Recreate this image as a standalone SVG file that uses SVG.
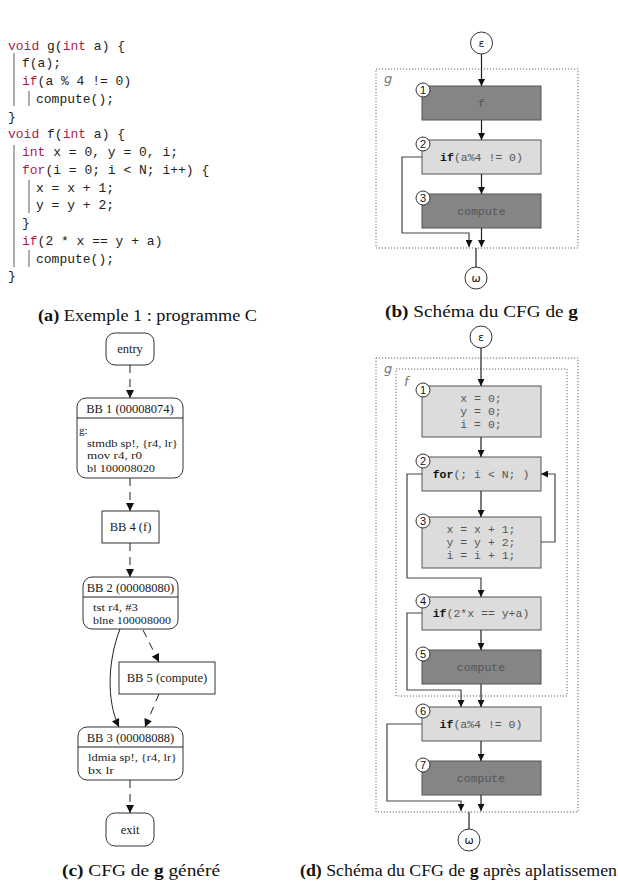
<svg xmlns="http://www.w3.org/2000/svg" width="618" height="888" viewBox="0 0 618 888">
<defs>
<style>
.code{font-family:"Liberation Mono","DejaVu Sans Mono",monospace;font-size:13px;fill:#222}
.kw{fill:#b0184c}
.bar{stroke:#999;stroke-width:1.6}
.cap{font-family:"Liberation Serif","DejaVu Serif",serif;font-size:16px;fill:#111}
.b{font-weight:bold}
.dot{fill:none;stroke:#666;stroke-width:1;stroke-dasharray:1.2,1.8}
.lbl{font-family:"DejaVu Sans","Liberation Sans",sans-serif;font-style:italic;font-size:13px;fill:#777}
.dk{fill:#858585;stroke:#555;stroke-width:1}
.lt{fill:#dcdcdc;stroke:#555;stroke-width:1}
.bt{font-family:"Liberation Mono","DejaVu Sans Mono",monospace;font-size:11.5px;fill:#555;text-anchor:middle}
.bt tspan.k{font-weight:bold;fill:#111}
.num{fill:#fff;stroke:#333;stroke-width:1}
.numt{font-family:"Liberation Sans","DejaVu Sans",sans-serif;font-size:11px;fill:#111;text-anchor:middle}
.ew{font-family:"DejaVu Sans","Liberation Sans",sans-serif;font-size:11px;fill:#111;text-anchor:middle}
.e{fill:none;stroke:#222;stroke-width:1.2}
.eg{fill:none;stroke:#444;stroke-width:1.2}
.cn{fill:#fff;stroke:#333;stroke-width:1}
.gv{fill:#fff;stroke:#333;stroke-width:1}
.gt{font-family:"Liberation Serif","DejaVu Serif",serif;font-size:12.5px;fill:#222}
.gs{font-family:"Liberation Serif","DejaVu Serif",serif;font-size:11px;fill:#222}
.gc{fill:none;stroke:#222;stroke-width:1}
.gd{fill:none;stroke:#222;stroke-width:1;stroke-dasharray:8,6}
</style>
<marker id="ah" viewBox="0 0 10 10" refX="10" refY="5" markerWidth="7" markerHeight="7" markerUnits="userSpaceOnUse" orient="auto">
<path d="M0,0 L10,5 L0,10 z" fill="#111"/>
</marker>
<marker id="ag" viewBox="0 0 10 10" refX="10" refY="5" markerWidth="10" markerHeight="8" markerUnits="userSpaceOnUse" orient="auto">
<path d="M0,0 L10,5 L0,10 z" fill="#111"/>
</marker>
</defs>

<!-- (a) code -->
<g id="code">
<line class="bar" x1="14" y1="53" x2="14" y2="106"/>
<line class="bar" x1="29" y1="91" x2="29" y2="106"/>
<line class="bar" x1="14" y1="145" x2="14" y2="267"/>
<line class="bar" x1="29" y1="180" x2="29" y2="213"/>
<line class="bar" x1="29" y1="250" x2="29" y2="267"/>
<text class="code" x="8" y="49.5"><tspan class="kw">void</tspan> g(<tspan class="kw">int</tspan> a) {</text>
<text class="code" x="22" y="67.2">f(a);</text>
<text class="code" x="22" y="85"><tspan class="kw">if</tspan>(a % 4 != 0)</text>
<text class="code" x="36" y="102.7">compute();</text>
<text class="code" x="8" y="120.5">}</text>
<text class="code" x="8" y="138.2"><tspan class="kw">void</tspan> f(<tspan class="kw">int</tspan> a) {</text>
<text class="code" x="22" y="156"><tspan class="kw">int</tspan> x = 0, y = 0, i;</text>
<text class="code" x="22" y="173.7"><tspan class="kw">for</tspan>(i = 0; i &lt; N; i++) {</text>
<text class="code" x="36" y="191.5">x = x + 1;</text>
<text class="code" x="36" y="209.2">y = y + 2;</text>
<text class="code" x="22" y="227">}</text>
<text class="code" x="22" y="244.7"><tspan class="kw">if</tspan>(2 * x == y + a)</text>
<text class="code" x="36" y="262.5">compute();</text>
<text class="code" x="8" y="280.2">}</text>
</g>
<text class="cap" x="38" y="321" textLength="219" lengthAdjust="spacingAndGlyphs"><tspan class="b">(a)</tspan> Exemple 1 : programme C</text>

<!-- (b) -->
<g id="b-cluster-g">
<rect class="dot" x="376" y="69" width="202" height="179"/>
<text class="lbl" x="384" y="83">g</text>
</g>
<g id="b-eps"><circle class="cn" cx="481.5" cy="43" r="11"/><text class="ew" x="481.5" y="47">ε</text></g>
<g id="b-n1"><rect class="dk" x="422" y="86" width="119" height="34"/><text class="bt" x="481.5" y="107">f</text><circle class="num" cx="423" cy="90" r="7"/><text class="numt" x="423" y="94">1</text></g>
<g id="b-n2"><rect class="lt" x="422" y="140" width="119" height="34"/><text class="bt" x="481.5" y="161"><tspan class="k">if</tspan>(a%4 != 0)</text><circle class="num" cx="423" cy="144" r="7"/><text class="numt" x="423" y="148">2</text></g>
<g id="b-n3"><rect class="dk" x="422" y="194" width="119" height="34"/><text class="bt" x="481.5" y="215">compute</text><circle class="num" cx="423" cy="198" r="7"/><text class="numt" x="423" y="202">3</text></g>
<g id="b-omega"><circle class="cn" cx="476" cy="278" r="11"/><text class="ew" x="476" y="282">ω</text></g>
<g id="b-edges">
<line class="e" x1="481.5" y1="54" x2="481.5" y2="86" marker-end="url(#ah)"/>
<line class="e" x1="481.5" y1="120" x2="481.5" y2="140" marker-end="url(#ah)"/>
<line class="e" x1="481.5" y1="174" x2="481.5" y2="194" marker-end="url(#ah)"/>
<line class="e" x1="481.5" y1="228" x2="481.5" y2="247" marker-end="url(#ah)"/>
<polyline class="eg" points="422,157 402,157 402,233 469,233 469,247" marker-end="url(#ah)"/>
<line class="e" x1="476" y1="248" x2="476" y2="267"/>
</g>
<text class="cap" x="385" y="317" textLength="193" lengthAdjust="spacingAndGlyphs"><tspan class="b">(b)</tspan> Schéma du CFG de <tspan class="b">g</tspan></text>

<!-- (c) -->
<g id="c-entry"><rect class="gv" x="106" y="333" width="48" height="32" rx="9"/><text class="gt" x="130" y="353" text-anchor="middle">entry</text></g>
<g id="c-bb1"><rect class="gv" x="77" y="398" width="106" height="80" rx="9"/><line class="gc" x1="77" y1="418" x2="183" y2="418"/>
<text class="gt" x="130" y="412.5" text-anchor="middle">BB 1 (00008074)</text>
<text class="gs" x="79" y="434">g:</text>
<text class="gs" x="87" y="446.5" textLength="91" lengthAdjust="spacingAndGlyphs">stmdb sp!, {r4, lr}</text>
<text class="gs" x="87" y="459" textLength="55" lengthAdjust="spacingAndGlyphs">mov r4, r0</text>
<text class="gs" x="87" y="471.5" textLength="68" lengthAdjust="spacingAndGlyphs">bl 100008020</text></g>
<g id="c-bb4"><rect class="gv" x="102" y="511" width="57" height="32"/><text class="gt" x="130.5" y="531" text-anchor="middle">BB 4 (f)</text></g>
<g id="c-bb2"><rect class="gv" x="83" y="577" width="95" height="52" rx="9"/><line class="gc" x1="83" y1="597" x2="178" y2="597"/>
<text class="gt" x="130.5" y="591.5" text-anchor="middle">BB 2 (00008080)</text>
<text class="gs" x="93" y="610.5" textLength="45" lengthAdjust="spacingAndGlyphs">tst r4, #3</text>
<text class="gs" x="93" y="623.5" textLength="78" lengthAdjust="spacingAndGlyphs">blne 100008000</text></g>
<g id="c-bb5"><rect class="gv" x="119" y="662" width="96" height="32"/><text class="gt" x="167" y="682" text-anchor="middle">BB 5 (compute)</text></g>
<g id="c-bb3"><rect class="gv" x="78" y="727" width="105" height="53" rx="9"/><line class="gc" x1="78" y1="747" x2="183" y2="747"/>
<text class="gt" x="130.5" y="741.5" text-anchor="middle">BB 3 (00008088)</text>
<text class="gs" x="88" y="761" textLength="89" lengthAdjust="spacingAndGlyphs">ldmia sp!, {r4, lr}</text>
<text class="gs" x="88" y="774" textLength="26" lengthAdjust="spacingAndGlyphs">bx lr</text></g>
<g id="c-exit"><rect class="gv" x="106" y="813" width="48" height="33" rx="9"/><text class="gt" x="130" y="833.5" text-anchor="middle">exit</text></g>
<g id="c-edges">
<line class="gd" x1="130" y1="365" x2="130" y2="398" marker-end="url(#ag)"/>
<line class="gd" x1="130" y1="478" x2="130" y2="511" marker-end="url(#ag)"/>
<line class="gd" x1="130" y1="543" x2="130" y2="577" marker-end="url(#ag)"/>
<line class="gd" x1="143" y1="630" x2="159" y2="662" marker-end="url(#ag)"/>
<path class="gc" d="M120,629 C108,660 106,700 119,727" marker-end="url(#ag)"/>
<line class="gd" x1="159" y1="694" x2="145" y2="727" marker-end="url(#ag)"/>
<line class="gd" x1="130" y1="780" x2="130" y2="813" marker-end="url(#ag)"/>
</g>
<text class="cap" x="62" y="876" textLength="158" lengthAdjust="spacingAndGlyphs"><tspan class="b">(c)</tspan> CFG de <tspan class="b">g</tspan> généré</text>

<!-- (d) -->
<g id="d-cluster-g"><rect class="dot" x="376" y="358" width="202" height="454"/><text class="lbl" x="384" y="373">g</text></g>
<g id="d-cluster-f"><rect class="dot" x="396" y="369" width="171" height="327"/><text class="lbl" x="404" y="386">f</text></g>
<g id="d-eps"><circle class="cn" cx="481" cy="337" r="11"/><text class="ew" x="481" y="341">ε</text></g>
<g id="d-n1"><rect class="lt" x="422" y="386" width="119" height="51"/>
<text class="bt" x="481" y="402">x = 0;</text><text class="bt" x="481" y="415">y = 0;</text><text class="bt" x="481" y="428">i = 0;</text>
<circle class="num" cx="423" cy="390" r="7"/><text class="numt" x="423" y="394">1</text></g>
<g id="d-n2"><rect class="lt" x="422" y="457" width="119" height="34"/><text class="bt" x="481" y="478"><tspan class="k">for</tspan>(; i &lt; N; )</text>
<circle class="num" cx="423" cy="461" r="7"/><text class="numt" x="423" y="465">2</text></g>
<g id="d-n3"><rect class="lt" x="422" y="517" width="119" height="51"/>
<text class="bt" x="481" y="533">x = x + 1;</text><text class="bt" x="481" y="546">y = y + 2;</text><text class="bt" x="481" y="559">i = i + 1;</text>
<circle class="num" cx="423" cy="521" r="7"/><text class="numt" x="423" y="525">3</text></g>
<g id="d-n4"><rect class="lt" x="422" y="597" width="119" height="33"/><text class="bt" x="481" y="617"><tspan class="k">if</tspan>(2*x == y+a)</text>
<circle class="num" cx="423" cy="601" r="7"/><text class="numt" x="423" y="605">4</text></g>
<g id="d-n5"><rect class="dk" x="422" y="650" width="119" height="34"/><text class="bt" x="481" y="671">compute</text>
<circle class="num" cx="423" cy="654" r="7"/><text class="numt" x="423" y="658">5</text></g>
<g id="d-n6"><rect class="lt" x="422" y="707" width="119" height="34"/><text class="bt" x="481" y="728"><tspan class="k">if</tspan>(a%4 != 0)</text>
<circle class="num" cx="423" cy="711" r="7"/><text class="numt" x="423" y="715">6</text></g>
<g id="d-n7"><rect class="dk" x="422" y="761" width="119" height="34"/><text class="bt" x="481" y="782">compute</text>
<circle class="num" cx="423" cy="765" r="7"/><text class="numt" x="423" y="769">7</text></g>
<g id="d-omega"><circle class="cn" cx="469" cy="840" r="11"/><text class="ew" x="469" y="844">ω</text></g>
<g id="d-edges">
<line class="e" x1="481" y1="348" x2="481" y2="386" marker-end="url(#ah)"/>
<line class="e" x1="481" y1="437" x2="481" y2="457" marker-end="url(#ah)"/>
<line class="e" x1="481" y1="491" x2="481" y2="517" marker-end="url(#ah)"/>
<polyline class="eg" points="541,542 555,542 555,474 541,474" marker-end="url(#ah)"/>
<polyline class="eg" points="422,474 407,474 407,578 481,578 481,597" marker-end="url(#ah)"/>
<line class="e" x1="481" y1="630" x2="481" y2="650" marker-end="url(#ah)"/>
<polyline class="eg" points="422,613 407,613 407,690 461,690 461,707" marker-end="url(#ah)"/>
<line class="e" x1="481" y1="684" x2="481" y2="707" marker-end="url(#ah)"/>
<line class="e" x1="481" y1="741" x2="481" y2="761" marker-end="url(#ah)"/>
<polyline class="eg" points="422,724 387,724 387,801 461,801 461,811" marker-end="url(#ah)"/>
<line class="e" x1="481" y1="795" x2="481" y2="811" marker-end="url(#ah)"/>
<line class="e" x1="469" y1="812" x2="469" y2="829"/>
</g>
<text class="cap" x="300" y="876" textLength="317" lengthAdjust="spacingAndGlyphs"><tspan class="b">(d)</tspan> Schéma du CFG de <tspan class="b">g</tspan> après aplatissemen</text>
</svg>
